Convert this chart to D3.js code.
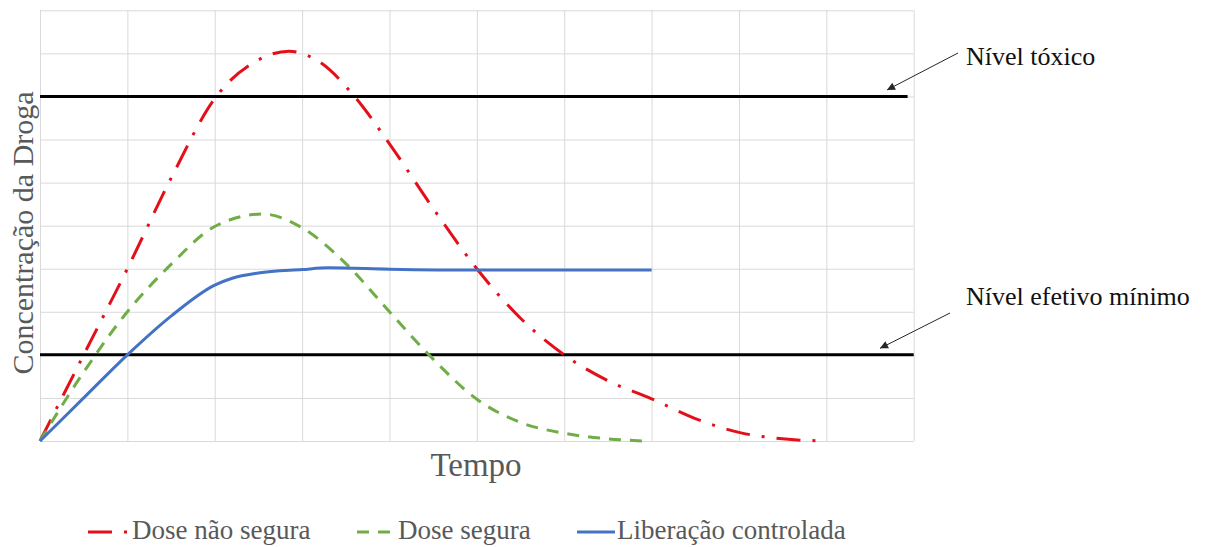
<!DOCTYPE html>
<html>
<head>
<meta charset="utf-8">
<script src="https://cdn.jsdelivr.net/npm/d3@7"></script>
<style>
  html, body { margin: 0; padding: 0; background: #ffffff; }
  svg { display: block; }
</style>
</head>
<body>
<svg id="chart" width="1207" height="547"></svg>
<script>
// Grid steps on both axes (no tick labels are shown)
const gridSteps = d3.range(0, 11);

// Dose não segura (red, dash-dot)
const unsafeTime = [0, 0.5, 1, 1.5, 2, 2.5, 2.85, 3.2, 3.6, 4, 4.5, 5, 5.5, 6, 6.5, 7, 7.5, 8, 8.5, 9];
const unsafeConc = [0, 2.0, 4.0, 6.1, 7.95, 8.85, 9.05, 8.8, 8.0, 6.9, 5.4, 4.0, 2.85, 2.0, 1.4, 0.98, 0.52, 0.2, 0.05, 0];

// Dose segura (green, dashed)
const safeTime = [0, 0.5, 1, 1.5, 2, 2.55, 3, 3.5, 4, 4.5, 5, 5.5, 6, 6.5, 6.9];
const safeConc = [0, 1.6, 3.0, 4.1, 4.98, 5.27, 4.95, 4.12, 3.0, 1.9, 0.97, 0.43, 0.18, 0.05, 0];

// Liberação controlada (blue, solid)
const controlledTime = [0, 0.5, 1, 1.5, 2, 2.2, 2.5, 3, 3.3, 4, 5, 6, 7];
const controlledConc = [0, 1.0, 2.0, 2.9, 3.62, 3.78, 3.9, 3.98, 4.02, 3.99, 3.97, 3.97, 3.97];

// Reference levels
const toxicLevel = 8;
const toxicSpan = [0, 9.93];
const minEffectiveLevel = 2;
const minEffectiveSpan = [0, 10];

const levelLabels = ["Nível tóxico", "Nível efetivo mínimo"];
const seriesNames = ["Dose não segura", "Dose segura", "Liberação controlada"];
const axisTitleX = "Tempo";
const axisTitleY = "Concentração da Droga";

const svg = d3.select("#chart");
const serif = "'Liberation Serif', 'Times New Roman', serif";

const x = d3.scaleLinear().domain([0, 10]).range([40, 913.7]);
const y = d3.scaleLinear().domain([0, 10]).range([441, 10.3]);

// Gridlines
const grid = svg.append("g").attr("class", "grid");
grid.append("g")
  .attr("transform", `translate(0,${y(0)})`)
  .call(d3.axisBottom(x).tickValues(gridSteps).tickSize(-(y(0) - y(10))).tickFormat(""))
  .call(g => g.select(".domain").remove())
  .call(g => g.selectAll("line").attr("stroke", "#d9d9d9").attr("stroke-width", 1));
grid.append("g")
  .attr("transform", `translate(${x(0)},0)`)
  .call(d3.axisLeft(y).tickValues(gridSteps).tickSize(-(x(10) - x(0))).tickFormat(""))
  .call(g => g.select(".domain").remove())
  .call(g => g.selectAll("line").attr("stroke", "#d9d9d9").attr("stroke-width", 1));

// Level lines
const levels = [
  { level: toxicLevel, span: toxicSpan },
  { level: minEffectiveLevel, span: minEffectiveSpan }
];
svg.append("g").selectAll("line").data(levels).join("line")
  .attr("x1", d => x(d.span[0])).attr("x2", d => x(d.span[1]))
  .attr("y1", d => y(d.level)).attr("y2", d => y(d.level))
  .attr("stroke", "#000").attr("stroke-width", 3);

// Series
const series = [
  { name: seriesNames[0], t: unsafeTime, c: unsafeConc, color: "#e3101a", dash: "24,12,3,12" },
  { name: seriesNames[1], t: safeTime, c: safeConc, color: "#70ad47", dash: "12,9" },
  { name: seriesNames[2], t: controlledTime, c: controlledConc, color: "#4472c4", dash: null }
];

const line = d3.line()
  .x(d => x(d[0]))
  .y(d => y(d[1]))
  .curve(d3.curveMonotoneX);

svg.append("g").selectAll("path").data(series).join("path")
  .attr("d", s => line(s.t.map((t, i) => [t, s.c[i]])))
  .attr("fill", "none")
  .attr("stroke", s => s.color)
  .attr("stroke-width", 3)
  .attr("stroke-dasharray", s => s.dash)
  .attr("stroke-linejoin", "round");

// Axis titles
svg.append("text")
  .attr("x", 476).attr("y", 476)
  .attr("text-anchor", "middle")
  .attr("font-family", serif).attr("font-size", 33)
  .attr("fill", "#595959")
  .text(axisTitleX);

svg.append("text")
  .attr("transform", "translate(33,233) rotate(-90)")
  .attr("text-anchor", "middle")
  .attr("font-family", serif).attr("font-size", 30)
  .attr("fill", "#595959")
  .text(axisTitleY);

// Level annotations with arrows
const defs = svg.append("defs");
defs.append("marker")
  .attr("id", "arrowHead")
  .attr("viewBox", "0 0 10 10")
  .attr("refX", 10).attr("refY", 5)
  .attr("markerWidth", 11).attr("markerHeight", 8)
  .attr("markerUnits", "userSpaceOnUse")
  .attr("orient", "auto")
  .append("path").attr("d", "M0,0 L10,5 L0,10 Z").attr("fill", "#262626");

const annotations = [
  { text: levelLabels[0], level: toxicLevel, tx: 966, ty: 65, from: [958, 53], tipX: 887 },
  { text: levelLabels[1], level: minEffectiveLevel, tx: 966, ty: 305, from: [950, 313], tipX: 880 }
];
const ann = svg.append("g");
ann.selectAll("line").data(annotations).join("line")
  .attr("x1", d => d.from[0]).attr("y1", d => d.from[1])
  .attr("x2", d => d.tipX).attr("y2", d => y(d.level) - 6.5)
  .attr("stroke", "#262626").attr("stroke-width", 1)
  .attr("marker-end", "url(#arrowHead)");
ann.selectAll("text").data(annotations).join("text")
  .attr("x", d => d.tx).attr("y", d => d.ty)
  .attr("font-family", serif).attr("font-size", 26)
  .attr("fill", "#111")
  .text(d => d.text);

// Legend
const legendItems = [
  { s: series[0], x0: 88, x1: 128, tx: 132 },
  { s: series[1], x0: 357, x1: 392, tx: 398 },
  { s: series[2], x0: 577, x1: 615, tx: 617 }
];
const legend = svg.append("g");
legend.selectAll("line").data(legendItems).join("line")
  .attr("x1", d => d.x0).attr("x2", d => d.x1)
  .attr("y1", 532).attr("y2", 532)
  .attr("stroke", d => d.s.color).attr("stroke-width", 3)
  .attr("stroke-dasharray", d => d.s.dash);
legend.selectAll("text").data(legendItems).join("text")
  .attr("x", d => d.tx).attr("y", 539)
  .attr("font-family", serif).attr("font-size", 27)
  .attr("fill", "#595959")
  .text(d => d.s.name);
</script>
</body>
</html>
